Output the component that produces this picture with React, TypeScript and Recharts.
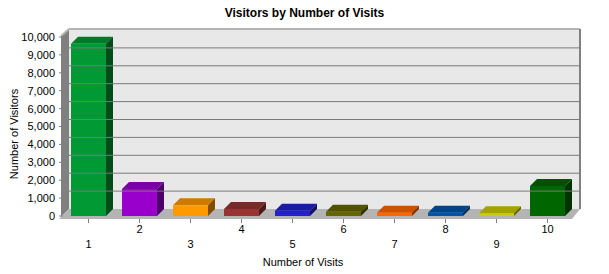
import React from 'react';
import { BarChart, Bar, XAxis, YAxis, ReferenceArea, ReferenceLine, Cell } from 'recharts';

const visits = ['1', '2', '3', '4', '5', '6', '7', '8', '9', '10'];
const visitors = [9620, 1510, 600, 390, 300, 240, 185, 180, 150, 1680];
const yTicks = [0, 1000, 2000, 3000, 4000, 5000, 6000, 7000, 8000, 9000, 10000];
const barColors = ['#009933', '#9900cc', '#ff9900', '#993333', '#2222cc', '#666600', '#ff6600', '#0055aa', '#cccc00', '#006600'];

const data = visits.map((v, i) => ({ visits: v, visitors: visitors[i] }));

const FONT = '"Liberation Sans", Arial, sans-serif';
const DEPTH = 7;

// darken a #rrggbb colour
const shade = (hex: string, f: number) => {
    const n = parseInt(hex.slice(1), 16);
    const r = Math.round(((n >> 16) & 255) * f);
    const g = Math.round(((n >> 8) & 255) * f);
    const b = Math.round((n & 255) * f);
    return `rgb(${r},${g},${b})`;
};

const Bar3D = (props: any) => {
    const { x, y, width, height, fill } = props;
    if (!height || height <= 0) return null;
    const top = `${x},${y} ${x + DEPTH},${y - DEPTH} ${x + width + DEPTH},${y - DEPTH} ${x + width},${y}`;
    const side = `${x + width},${y} ${x + width + DEPTH},${y - DEPTH} ${x + width + DEPTH},${y + height - DEPTH} ${x + width},${y + height}`;
    return (
        <g>
            <polygon points={top} fill={shade(fill, 0.8)} />
            <polygon points={side} fill={shade(fill, 0.5)} />
            <rect x={x} y={y} width={width} height={height} fill={fill} />
        </g>
    );
};

// back wall, left wall and floor of the 3D box
const Walls = (props: any) => {
    const { x, y, width, height } = props;
    const bx = x + 6;
    const by = y - 8;
    const bw = width + 1;
    const bottom = y + height;
    return (
        <g>
            <rect x={bx} y={by} width={bw} height={height + 1} fill="#e8e8e8" />
            <polygon points={`${x - 2},${y - 1} ${bx},${by} ${bx},${bottom - 7} ${x - 2},${bottom + 1}`} fill="#808080" />
            <line x1={x - 2} y1={y - 1} x2={bx} y2={by} stroke="#b4b4b4" strokeWidth={2} />
            <line x1={bx} y1={by} x2={bx + bw} y2={by} stroke="#b4b4b4" strokeWidth={2} />
            <line x1={bx + bw} y1={by} x2={bx + bw} y2={bottom - 7} stroke="#808080" strokeWidth={2} />
            <polygon
                points={`${bx},${bottom - 7} ${bx + bw},${bottom - 7} ${x + width - 1},${bottom + 3} ${x - 4},${bottom + 3}`}
                fill="#b4b4b4"
            />
        </g>
    );
};

// gridline pushed back onto the back wall
const BackGridLine = (props: any) => {
    const { x1, y1, x2, y2 } = props;
    return <line x1={x1 + 6} y1={y1 - DEPTH} x2={x2 + 7} y2={y2 - DEPTH} stroke="#7a7a7a" strokeWidth={1} />;
};

const VisitTick = (props: any) => {
    const { x, y, payload, index } = props;
    const low = index % 2 === 0;
    return (
        <g>
            <line x1={x} x2={x} y1={y + 3} y2={y + 7} stroke="#808080" />
            <text x={x} y={y + (low ? 32 : 17)} textAnchor="middle" fontSize={11} fontFamily={FONT} fill="#000">
                {payload.value}
            </text>
        </g>
    );
};

const XTitle = () => (
    <text x={303} y={266} textAnchor="middle" fontSize={11} fontFamily={FONT} fill="#000">
        Number of Visits
    </text>
);

const YTitle = () => (
    <text x={18} y={134} transform="rotate(-90 18 134)" textAnchor="middle" fontSize={11} fontFamily={FONT} fill="#000">
        Number of Visitors
    </text>
);

const App: React.FC = () => {
    return (
        <div style={{ position: 'absolute', left: 0, top: 0, width: 609, height: 274, background: '#fff' }}>
            <div
                style={{
                    position: 'absolute',
                    left: 0,
                    top: 5,
                    width: 609,
                    textAlign: 'center',
                    fontFamily: FONT,
                    fontWeight: 'bold',
                    fontSize: 12,
                    lineHeight: '16px',
                }}
            >
                Visitors by Number of Visits
            </div>
            <BarChart width={609} height={274} data={data} margin={{ top: 37, right: 36, left: 0, bottom: 0 }}>
                <ReferenceArea y1={0} y2={10000} shape={<Walls />} ifOverflow="visible" />
                {yTicks.slice(1, -1).map((t) => (
                    <ReferenceLine key={t} y={t} ifOverflow="visible" shape={<BackGridLine />} />
                ))}
                <YAxis
                    width={63}
                    domain={[0, 10000]}
                    ticks={yTicks}
                    interval={0}
                    axisLine={false}
                    tickLine={{ stroke: '#808080' }}
                    tickSize={4}
                    tickMargin={4}
                    tickFormatter={(v: number) => v.toLocaleString('en-US')}
                    tick={{ fontSize: 11, fill: '#000', fontFamily: FONT }}
                    label={<YTitle />}
                />
                <XAxis
                    dataKey="visits"
                    height={58}
                    interval={0}
                    axisLine={false}
                    tickLine={false}
                    tickSize={0}
                    tickMargin={0}
                    tick={<VisitTick />}
                    label={<XTitle />}
                />
                <Bar dataKey="visitors" barSize={35} shape={<Bar3D />} isAnimationActive={false}>
                    {data.map((d, i) => (
                        <Cell key={d.visits} fill={barColors[i]} />
                    ))}
                </Bar>
            </BarChart>
        </div>
    );
};

export default App;
